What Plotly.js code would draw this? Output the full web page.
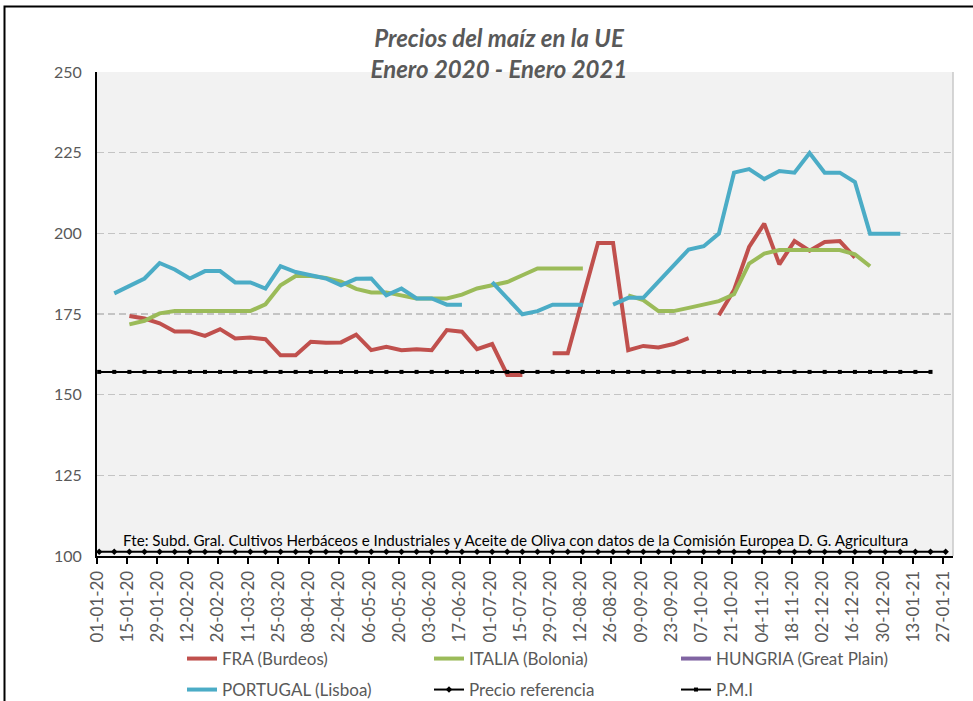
<!DOCTYPE html>
<html>
<head>
<meta charset="utf-8">
<script src="https://cdn.plot.ly/plotly-3.0.1.min.js"></script>
<style>
  html, body { margin: 0; padding: 0; background: #ffffff; }
  #chart { width: 973px; height: 701px; }
</style>
</head>
<body>
<div id="chart"></div>
<script>
// Weekly observation dates (Thursdays)
const dates = [
  '2020-01-02','2020-01-09','2020-01-16','2020-01-23','2020-01-30',
  '2020-02-06','2020-02-13','2020-02-20','2020-02-27',
  '2020-03-05','2020-03-12','2020-03-19','2020-03-26',
  '2020-04-02','2020-04-09','2020-04-16','2020-04-23','2020-04-30',
  '2020-05-07','2020-05-14','2020-05-21','2020-05-28',
  '2020-06-04','2020-06-11','2020-06-18','2020-06-25',
  '2020-07-02','2020-07-09','2020-07-16','2020-07-23','2020-07-30',
  '2020-08-06','2020-08-13','2020-08-20','2020-08-27',
  '2020-09-03','2020-09-10','2020-09-17','2020-09-24',
  '2020-10-01','2020-10-08','2020-10-15','2020-10-22','2020-10-29',
  '2020-11-05','2020-11-12','2020-11-19','2020-11-26',
  '2020-12-03','2020-12-10','2020-12-17','2020-12-24','2020-12-31',
  '2021-01-07','2021-01-14','2021-01-21','2021-01-28'
];

const fra = [
  null, null, 174.4, 173.6, 172.1, 169.6, 169.6, 168.2, 170.3, 167.4,
  167.7, 167.2, 162.2, 162.2, 166.4, 166.1, 166.2, 168.6, 163.8, 164.8,
  163.8, 164.1, 163.8, 170.0, 169.5, 164.1, 165.7, 156.1, 156.1, null,
  162.8, 162.8, 180.0, 197.0, 197.0, 163.8, 165.1, 164.6, 165.7, 167.5,
  null, 174.6, 182.4, 195.8, 203.0, 190.4, 197.6, 194.6, 197.3, 197.6,
  192.5, null, null, null, null, null, null
];

const italia = [
  null, null, 171.8, 172.9, 175.2, 175.9, 175.9, 175.9, 175.9, 175.9,
  175.9, 178.0, 183.9, 186.8, 186.8, 186.2, 185.0, 182.8, 181.7, 181.7,
  180.8, 179.8, 179.8, 179.8, 181.0, 182.9, 183.9, 184.9, 187.0, 189.1,
  189.1, 189.1, 189.1, null, null, 180.8, 179.3, 175.9, 175.9, 176.9,
  178.0, 179.0, 181.1, 190.6, 193.7, 194.8, 194.8, 194.8, 194.8, 194.8,
  193.5, 189.8, null, null, null, null, null
];

const hungria = [
  null, null, null, null, null, null, null, null, null, null,
  null, null, null, null, null, null, null, null, null, null,
  null, null, null, null, null, null, null, null, null, null,
  null, null, null, null, null, null, null, null, null, null,
  null, null, null, null, null, null, null, null, null, null,
  null, null, null, null, null, null, null
];

const portugal = [
  null, 181.4, 183.6, 186.0, 190.8, 188.8, 186.0, 188.3, 188.3, 184.8,
  184.8, 182.9, 189.8, 188.0, 187.0, 186.0, 183.9, 185.9, 186.0, 180.8,
  182.9, 179.8, 179.8, 177.9, 177.9, null, 184.9, 179.8, 174.9, 175.9,
  177.9, 177.9, 177.9, null, 177.9, 180.0, 180.0, 184.9, 189.8, 195.0,
  196.0, 199.9, 218.8, 219.9, 216.8, 219.3, 218.8, 224.9, 218.8, 218.8,
  215.9, 199.9, 199.9, 199.9, null, null, null
];

const precioReferencia = [
  101.31, 101.31, 101.31, 101.31, 101.31, 101.31, 101.31, 101.31, 101.31, 101.31,
  101.31, 101.31, 101.31, 101.31, 101.31, 101.31, 101.31, 101.31, 101.31, 101.31,
  101.31, 101.31, 101.31, 101.31, 101.31, 101.31, 101.31, 101.31, 101.31, 101.31,
  101.31, 101.31, 101.31, 101.31, 101.31, 101.31, 101.31, 101.31, 101.31, 101.31,
  101.31, 101.31, 101.31, 101.31, 101.31, 101.31, 101.31, 101.31, 101.31, 101.31,
  101.31, 101.31, 101.31, 101.31, 101.31, 101.31, 101.31
];

const pmi = [
  157.06, 157.06, 157.06, 157.06, 157.06, 157.06, 157.06, 157.06, 157.06, 157.06,
  157.06, 157.06, 157.06, 157.06, 157.06, 157.06, 157.06, 157.06, 157.06, 157.06,
  157.06, 157.06, 157.06, 157.06, 157.06, 157.06, 157.06, 157.06, 157.06, 157.06,
  157.06, 157.06, 157.06, 157.06, 157.06, 157.06, 157.06, 157.06, 157.06, 157.06,
  157.06, 157.06, 157.06, 157.06, 157.06, 157.06, 157.06, 157.06, 157.06, 157.06,
  157.06, 157.06, 157.06, 157.06, 157.06, 157.06, null
];

const seriesNames = ['FRA (Burdeos)', 'ITALIA (Bolonia)', 'HUNGRIA (Great Plain)',
                     'PORTUGAL (Lisboa)', 'Precio referencia', 'P.M.I'];
const yTickVals = [100, 125, 150, 175, 200, 225, 250];

const FONT = 'Lato, "Open Sans", sans-serif';
const GRAY = '#595959';

function lineTrace(y, name, color, legend) {
  return {
    type: 'scatter', mode: 'lines', x: dates, y: y, name: name,
    line: { color: color, width: 4 }, connectgaps: false,
    legend: legend, hoverinfo: 'skip'
  };
}

const traces = [
  lineTrace(fra, seriesNames[0], '#c0504d', 'legend'),
  lineTrace(italia, seriesNames[1], '#9bbb59', 'legend'),
  lineTrace(hungria, seriesNames[2], '#8064a2', 'legend'),
  lineTrace(portugal, seriesNames[3], '#4bacc6', 'legend2'),
  {
    type: 'scatter', mode: 'lines+markers', x: dates, y: precioReferencia,
    name: seriesNames[4], legend: 'legend2', hoverinfo: 'skip',
    line: { color: '#000000', width: 2 },
    marker: { symbol: 'diamond', size: 5, color: '#000000' }
  },
  {
    type: 'scatter', mode: 'lines+markers', x: dates, y: pmi,
    name: seriesNames[5], legend: 'legend2', hoverinfo: 'skip',
    line: { color: '#000000', width: 2 },
    marker: { symbol: 'square', size: 4, color: '#000000' }
  }
];

const legendBase = {
  orientation: 'h', xref: 'container', yref: 'container',
  xanchor: 'left', yanchor: 'middle',
  entrywidth: 202, entrywidthmode: 'pixels',
  itemwidth: 30, bgcolor: 'rgba(0,0,0,0)',
  font: { family: FONT, size: 17, color: GRAY },
  traceorder: 'normal'
};

const layout = {
  width: 973, height: 701,
  paper_bgcolor: '#ffffff', plot_bgcolor: '#f2f2f2',
  margin: { l: 97, r: 20, t: 72, b: 145 },
  font: { family: FONT, color: GRAY },
  showlegend: true,
  title: {
    text: 'Precios del maíz en la UE<br>Enero 2020 - Enero 2021',
    font: { family: FONT, size: 24, color: GRAY, weight: 'bold', style: 'italic' },
    xref: 'container', yref: 'container',
    x: 499 / 973, xanchor: 'center',
    y: 1 - 47 / 701, yanchor: 'middle'
  },
  xaxis: {
    type: 'date',
    range: ['2020-01-01', '2021-01-31 10:00'],
    tick0: '2020-01-01', dtick: 14 * 86400000,
    tickformat: '%d-%m-%y', tickangle: -90,
    ticks: 'outside', ticklen: 6, tickwidth: 2, tickcolor: '#000000',
    showline: true, linecolor: '#000000', linewidth: 2,
    showgrid: false, zeroline: false,
    tickfont: { family: FONT, size: 17, color: GRAY },
    fixedrange: true
  },
  yaxis: {
    range: [100, 250], tickvals: yTickVals,
    showgrid: true, gridcolor: '#c4c4c4', gridwidth: 1.5, griddash: '7px,4px',
    showline: true, linecolor: '#000000', linewidth: 2,
    ticks: '', zeroline: false,
    ticklabelstandoff: 10,
    tickfont: { family: FONT, size: 16, color: GRAY },
    fixedrange: true
  },
  legend: Object.assign({}, legendBase, { x: 182 / 973, y: 1 - 659 / 701 }),
  legend2: Object.assign({}, legendBase, { x: 182 / 973, y: 1 - 690 / 701 }),
  annotations: [
    {
      text: '€/t', xref: 'container', yref: 'container',
      x: 100 / 973, y: 1 - 48 / 701, xanchor: 'center', yanchor: 'middle',
      showarrow: false, font: { family: FONT, size: 17, color: GRAY }
    },
    {
      text: 'Fte: Subd. Gral. Cultivos Herbáceos e Industriales y Aceite de Oliva con datos de la Comisión Europea D. G. Agricultura',
      xref: 'paper', yref: 'paper',
      x: (515 - 97) / 856, y: (556 - 540) / 484, xanchor: 'center', yanchor: 'middle',
      showarrow: false, font: { family: FONT, size: 15.2, color: '#000000' }
    }
  ],
  shapes: [
    {
      type: 'line', xref: 'paper', yref: 'paper', x0: 1, x1: 1, y0: 0, y1: 1,
      line: { color: '#c8c8c8', width: 1.5 }, layer: 'below'
    },
    {
      type: 'path', xref: 'paper', yref: 'paper',
      path: 'M ' + ((4.5 - 97) / 856) + ' ' + ((556 - 720) / 484) +
            ' L ' + ((4.5 - 97) / 856) + ' ' + ((556 - 6.5) / 484) +
            ' L ' + ((990 - 97) / 856) + ' ' + ((556 - 6.5) / 484),
      line: { color: '#000000', width: 2 }
    }
  ]
};

Plotly.newPlot('chart', traces, layout, { staticPlot: true, displayModeBar: false });
</script>
</body>
</html>
